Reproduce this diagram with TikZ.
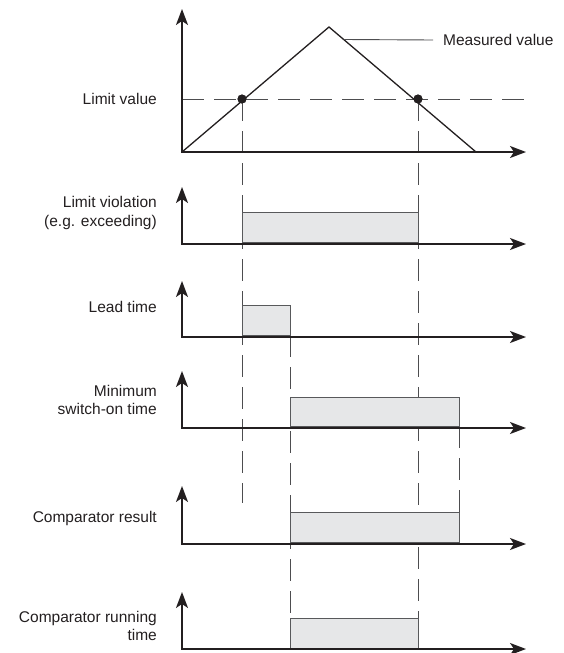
\documentclass[tikz,border=0pt]{standalone}
\usepackage{fontspec}
\setmainfont{Liberation Sans}
\usetikzlibrary{arrows.meta,calc}
\definecolor{ink}{HTML}{231F20}
\definecolor{boxfill}{HTML}{E6E7E8}
\definecolor{boxline}{HTML}{58595B}
\definecolor{dashgray}{HTML}{4D4D4F}
\begin{document}
\begin{tikzpicture}[x=1pt,y=-1pt,
  axisline/.style={draw=ink, line width=1.8pt, line join=miter,
    {Stealth[length=16pt,width=12pt,inset=4pt]}-{Stealth[length=16pt,width=12pt,inset=4pt]}},
  signalbox/.style={draw=boxline, fill=boxfill, line width=0.9pt},
  guide/.style={draw=dashgray, line width=0.9pt, dash pattern=on 22pt off 10pt},
  curve/.style={draw=ink, line width=1.3pt, line join=miter},
  lbl/.style={anchor=east, align=right, text=ink, inner sep=0pt,
    font=\fontsize{15.5}{18.5}\selectfont},
  dot/.style={circle, fill=ink, inner sep=0pt, minimum size=9pt}
]
\useasboundingbox (0,0) rectangle (563,653);

% ---------- panel origins ----------
\coordinate (o1) at (182,152); \coordinate (t1) at (182,9);   \coordinate (r1) at (526,152);
\coordinate (o2) at (182,244); \coordinate (t2) at (182,187); \coordinate (r2) at (526,244);
\coordinate (o3) at (182,337); \coordinate (t3) at (182,281); \coordinate (r3) at (526,337);
\coordinate (o4) at (182,428); \coordinate (t4) at (182,371); \coordinate (r4) at (526,428);
\coordinate (o5) at (182,544); \coordinate (t5) at (182,486); \coordinate (r5) at (526,544);
\coordinate (o6) at (182,649); \coordinate (t6) at (182,592); \coordinate (r6) at (526,649);

% ---------- measured value ----------
\coordinate (peak) at (329,27);
\coordinate (tend) at (476,152);
\coordinate (limL) at (182,99);
\coordinate (limR) at (527,99);
\node[dot] (p1) at (242,99) {};
\node[dot] (p2) at (418,99) {};

% ---------- guide ends ----------
\coordinate (a0) at (242,99);  \coordinate (a1) at (242,503);
\coordinate (c0) at (418,99);  \coordinate (c1) at (418,618);
\coordinate (b0) at (290,335); \coordinate (b1) at (290,618);
\coordinate (d0) at (459,426); \coordinate (d1) at (459,512);

\draw[guide] (limL) -- (limR);
\draw[guide] (a0) -- (a1);
\draw[guide] (c0) -- (c1);
\draw[guide] (b0) -- (b1);
\draw[guide] (d0) -- (d1);

% ---------- boxes ----------
\draw[signalbox] (242,212) rectangle (418,242);
\draw[signalbox] (242,305) rectangle (290,335);
\draw[signalbox] (290,397) rectangle (459,426);
\draw[signalbox] (290,512) rectangle (459,542);
\draw[signalbox] (290,618) rectangle (418,648);

% ---------- curve ----------
\draw[curve] (o1) -- (peak) -- (tend);
\node[dot] at (p1) {};
\node[dot] at (p2) {};

% ---------- axes ----------
\draw[axisline] (t1) -- (o1) -- (r1);
\draw[axisline] (t2) -- (o2) -- (r2);
\draw[axisline] (t3) -- (o3) -- (r3);
\draw[axisline] (t4) -- (o4) -- (r4);
\draw[axisline] (t5) -- (o5) -- (r5);
\draw[axisline] (t6) -- (o6) -- (r6);

% ---------- labels ----------
\node[lbl, anchor=west] (mv) at (443,40) {Measured value};
\coordinate (mvp) at ($(peak)!0.1!(tend)$);
\draw[draw=dashgray, line width=0.9pt] (mvp) -- ([xshift=-10pt]mv.west);

\node[lbl] (l1) at (157,99) {Limit value};
\node[lbl] (l2) at (157,213) {Limit violation\\(e.g. exceeding)};
\node[lbl] (l3) at (157,307) {Lead time};
\node[lbl] (l4) at (157,400) {Minimum\\switch-on time};
\node[lbl] (l5) at (157,518) {Comparator result};
\node[lbl] (l6) at (157,626) {Comparator running\\time};
\end{tikzpicture}
\end{document}
